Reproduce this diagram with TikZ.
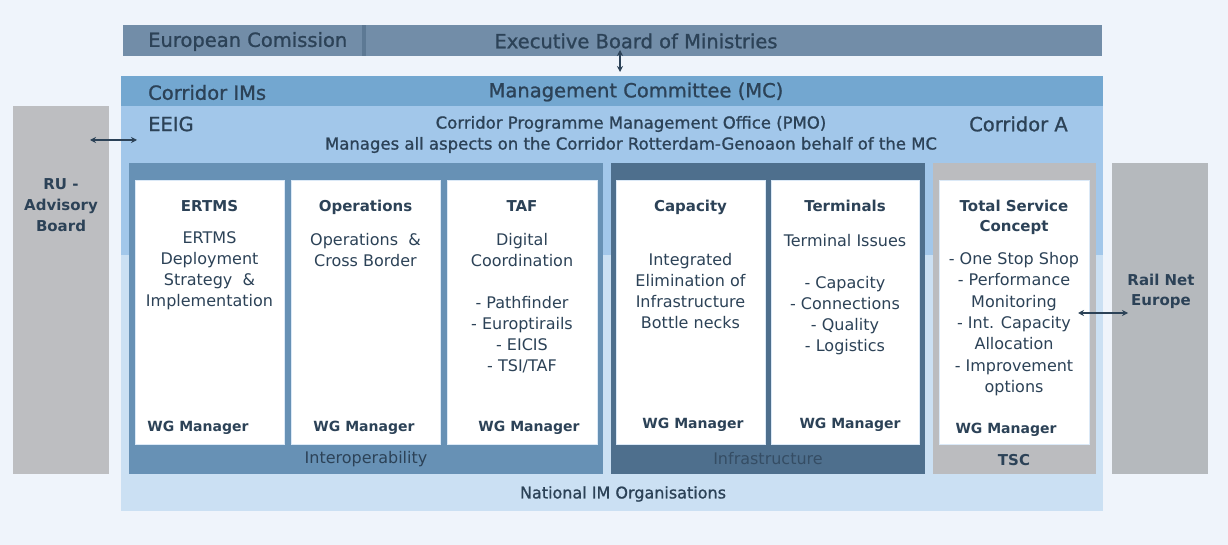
\documentclass[tikz,border=0pt]{standalone}
\usepackage{fontspec}
\setmainfont{DejaVu Sans}
\newfontfamily\medfont{DejaVu Sans}[FakeBold=1.1]
\usetikzlibrary{arrows.meta}

\definecolor{bgc}{HTML}{EFF4FB}
\definecolor{txtc}{HTML}{2C4257}
\definecolor{ebmc}{HTML}{728DA8}
\definecolor{ebmline}{HTML}{5D7994}
\definecolor{mcc}{HTML}{73A7D0}
\definecolor{pmoc}{HTML}{A2C7EA}
\definecolor{natc}{HTML}{CBE0F3}
\definecolor{interc}{HTML}{6791B5}
\definecolor{infrac}{HTML}{4E6F8D}
\definecolor{tscc}{HTML}{BBBCBF}
\definecolor{rugray}{HTML}{BDBEC1}
\definecolor{rnegray}{HTML}{B5B9BD}

\tikzset{
  area/.style={fill=#1, draw=none, inner sep=0pt, outer sep=0pt},
  wgbox/.style={fill=white, draw=natc!70!white, line width=0.8pt, minimum height=264pt, inner sep=0pt},
  big/.style={text=txtc, font=\medfont\fontsize{19.5}{22}\selectfont, inner sep=0pt},
  mid/.style={text=txtc, font=\medfont\fontsize{16.5}{21}\selectfont, align=center, inner sep=0pt},
  body/.style={text=txtc, font=\fontsize{16}{21}\selectfont, align=center, inner sep=0pt},
  ttl/.style={text=txtc, font=\bfseries\fontsize{15}{20.7}\selectfont, align=center, inner sep=0pt},
  mgr/.style={text=txtc, font=\bfseries\fontsize{14}{17}\selectfont, inner sep=0pt},
  link/.style={{Stealth[length=6pt,width=6pt]}-{Stealth[length=6pt,width=6pt]}, draw=txtc, line width=1.1pt},
}

\begin{document}
\begin{tikzpicture}[x=1pt,y=-1pt]
  % sfondo
  \useasboundingbox (0,0) rectangle (1228,545);
  \fill[bgc] (0,0) rectangle (1228,545);

  % Executive Board
  \node[area=ebmc, minimum width=979pt, minimum height=31pt] (ebm) at (612.5,40.5) {};
  \node[area=ebmline, minimum width=4pt, minimum height=31pt] (ebmsep) at (364,40.5) {};
  \node[big, anchor=west] (ec) at (148,41.5) {European Comission};
  \node[big] (ebmt) at (636,41) {Executive Board of Ministries};

  % Management Committee
  \node[area=mcc, minimum width=982pt, minimum height=30pt] (mc) at (612,91) {};
  \node[big, anchor=west] (cim) at (148,92.5) {Corridor IMs};
  \node[big] (mct) at (636,92) {Management Committee (MC)};

  % PMO / national IMs
  \node[area=natc, minimum width=982pt, minimum height=256pt] (nat) at (612,383) {};
  \node[area=pmoc, minimum width=982pt, minimum height=149pt] (pmo) at (612,180.5) {};
  \node[big, anchor=west] (eeig) at (148,124) {EEIG};
  \node[big, anchor=west] (cora) at (969,124) {Corridor A};
  \node[mid] (pmot) at (631,134.5) {Corridor Programme Management Office (PMO)\\Manages all aspects on the Corridor Rotterdam-Genoaon behalf of the MC};
  \node[body, font=\medfont\fontsize{16}{21}\selectfont] (natt) at (623,494) {National IM Organisations};

  % side boards
  \node[area=rugray, minimum width=96pt, minimum height=368pt] (ru) at (61,290) {};
  \node[ttl] (rut) at (61,205) {RU -\\Advisory\\Board};
  \node[area=rnegray, minimum width=96pt, minimum height=311pt] (rne) at (1160,318.5) {};
  \node[ttl] (rnet) at (1161,291.5) {Rail Net\\Europe};

  % groups
  \node[area=interc, minimum width=474pt, minimum height=311pt] (interop) at (366,318.5) {};
  \node[area=infrac, minimum width=314pt, minimum height=311pt] (infra) at (768,318.5) {};
  \node[area=tscc, minimum width=163pt, minimum height=311pt] (tsc) at (1014.5,318.5) {};
  \node[body] (interopt) at (366,459) {Interoperability};
  \node[body, text=txtc!75!infrac] (infrat) at (768,459) {Infrastructure};
  \node[ttl] (tsct) at (1014,460) {TSC};

  % working groups
  \foreach \n/\x/\w in {ertms/209.5/149pt, ops/365.5/149pt, taf/522/150pt, cap/690.5/149pt, term/845/148pt, serv/1014/150pt}
    \node[wgbox, minimum width=\w] (\n) at (\x,312) {};

  \node[ttl] (ertmst) at (209.5,206) {ERTMS};
  \node[body] (ertmsb) at (209.5,271) {ERTMS\\Deployment\\Strategy~ \&\\Implementation};
  \node[ttl] (opst) at (365.5,207) {Operations};
  \node[body] (opsb) at (365.5,250) {Operations~ \&\\Cross Border};
  \node[ttl] (taft) at (522,206) {TAF};
  \node[body] (tafb) at (522,303.5) {Digital\\Coordination\\~\\- Pathfinder\\- Europtirails\\- EICIS\\- TSI/TAF};
  \node[ttl] (capt) at (690.5,207) {Capacity};
  \node[body] (capb) at (690.5,291.5) {Integrated\\Elimination of\\Infrastructure\\Bottle necks};
  \node[ttl] (termt) at (845,206) {Terminals};
  \node[body] (termb) at (845,295) {Terminal Issues\\~\\- Capacity\\- Connections\\- Quality\\- Logistics};
  \node[ttl] (servt) at (1014,217.5) {Total Service\\Concept};
  \node[body, font=\fontsize{16}{21.3}\selectfont] (servb) at (1014,324) {- One Stop Shop\\- Performance\\Monitoring\\- Int. Capacity\\Allocation\\- Improvement\\options};

  \foreach \n/\x/\y in {a/198/428, b/364/428, c/529/428, d/693/425, e/850/425, f/1006/430}
    \node[mgr] (mgr\n) at (\x,\y) {WG Manager};

  % frecce
  \coordinate (v1) at (620,50);
  \coordinate (v2) at (620,72);
  \coordinate (l1) at (90,140);
  \coordinate (l2) at (137,140);
  \coordinate (r1) at (1078,313);
  \coordinate (r2) at (1128,313);
  \draw[link] (v1) -- (v2);
  \draw[link] (l1) -- (l2);
  \draw[link] (r1) -- (r2);
\end{tikzpicture}
\end{document}
